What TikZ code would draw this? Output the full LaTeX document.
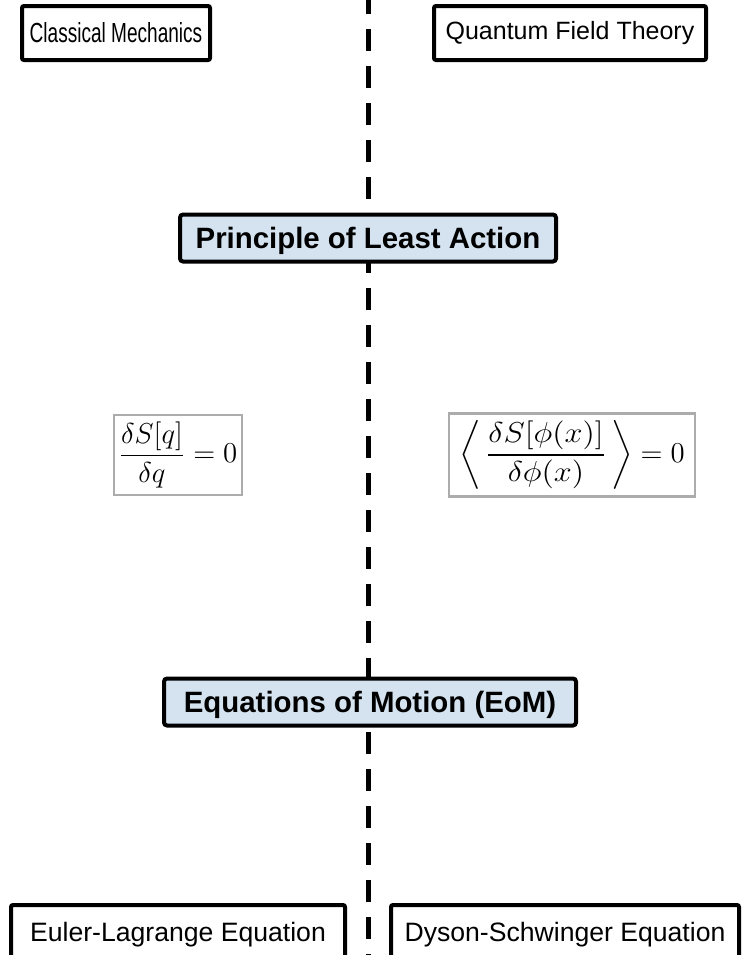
\documentclass[tikz,border=0pt]{standalone}
\usepackage{amsmath,graphicx}
\usepackage[no-math]{fontspec}
\newfontfamily\arial{Liberation Sans}
\newfontfamily\arialn[FakeStretch=0.69]{Liberation Sans}
\usetikzlibrary{positioning}
\definecolor{keyblue}{RGB}{212,227,239}
\tikzset{
  sep/.style ={draw,line width=2.5pt,dash pattern=on 11pt off 7.5pt},
  cat/.style ={draw,line width=2pt,fill=white,rounded corners=1pt,inner sep=0pt,
               minimum height=27pt,font=\arial\fontsize{12.5}{15}\selectfont},
  key/.style ={draw,line width=2pt,fill=keyblue,rounded corners=1.5pt,inner sep=0pt,
               minimum height=23.5pt,text depth=0pt,
               font=\arial\bfseries\fontsize{14.7}{17}\selectfont},
  eqn/.style ={draw=gray!65,line width=1.2pt,fill=white,inner sep=0pt,
               minimum height=40pt,font=\fontsize{14}{17}\selectfont},
}

\begin{document}
\begin{tikzpicture}[x=0.5pt,y=-0.5pt]
  \useasboundingbox (0,0) rectangle (742,955);
  % dividing line
  \coordinate (top) at (368,-8);
  \coordinate (bot) at (368,960);
  \path[sep] (top) -- (bot);
  % headers
  \node[cat,minimum width=94pt,font=\arialn\fontsize{13.8}{16}\selectfont] (cm) at (116,33) {Classical Mechanics};
  \node[cat,minimum width=136pt] (qft) at (570,33) {Quantum Field Theory};
  % principle
  \node[key,minimum width=188pt] (pla) at (368,238) {Principle of Least Action};
  \node[eqn,minimum width=64pt] (eqcm) at (178,455)
    {$\displaystyle\frac{\delta S[q]}{\delta q}=0$};
  \node[eqn,minimum width=123pt,minimum height=41.5pt] (eqqft) at (572,455)
    {$\displaystyle\bigg\langle\,\scalebox{1.12}[1]{$\displaystyle\frac{\delta S[\phi(x)]}{\delta\phi(x)}$}\,\bigg\rangle=0$};
  % equations of motion
  \node[key,minimum width=206pt] (eom) at (370,702) {Equations of Motion (EoM)};
  \node[cat,minimum width=167pt,minimum height=30pt,font=\arial\fontsize{13.3}{16}\selectfont] (el) at (178,935) {Euler-Lagrange Equation};
  \node[cat,minimum width=174pt,minimum height=30pt,font=\arial\fontsize{13.3}{16}\selectfont] (ds) at (565,935) {Dyson-Schwinger Equation};
\end{tikzpicture}
\end{document}
